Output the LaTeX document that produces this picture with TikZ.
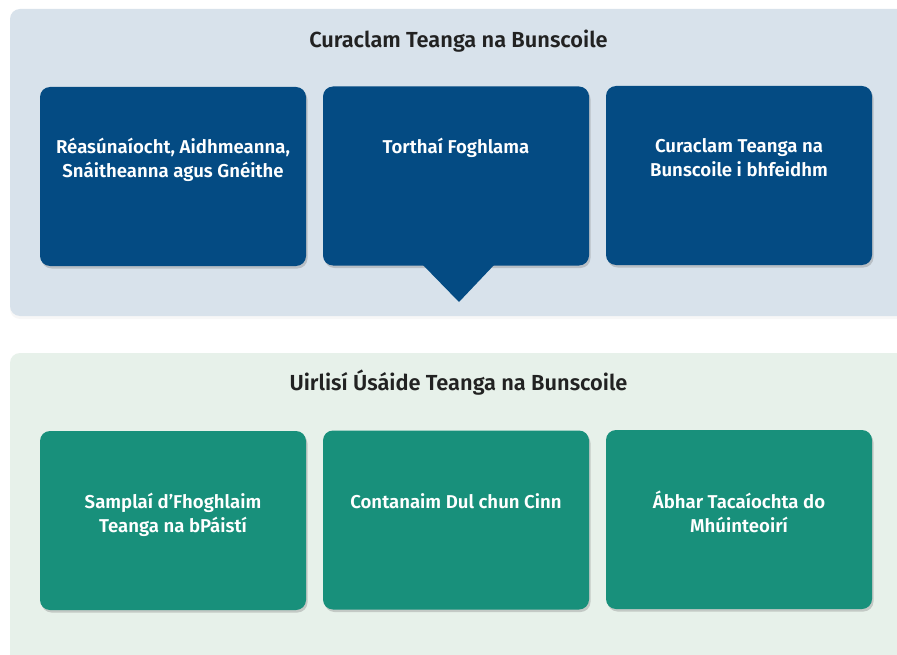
\documentclass[tikz,border=0pt]{standalone}
\usepackage{fontspec}
\setmainfont{Fira Sans}[BoldFont={Fira Sans SemiBold}]
\usetikzlibrary{shadows}
\definecolor{panelblue}{HTML}{D8E2EB}
\definecolor{panelgreen}{HTML}{E7F1EA}
\definecolor{boxblue}{HTML}{044B83}
\definecolor{boxgreen}{HTML}{18907B}
\definecolor{titlecol}{HTML}{222222}
\tikzset{
  panel/.style={rounded corners=10pt, drop shadow={shadow xshift=0pt, shadow yshift=-3pt, opacity=0.06}},
  card/.style={draw=none, rounded corners=10pt, inner sep=0pt, minimum width=266pt, minimum height=179pt,
    drop shadow={shadow xshift=1.5pt, shadow yshift=-2.5pt, opacity=0.35}},
  bluecard/.style={card, fill=boxblue},
  greencard/.style={card, fill=boxgreen},
  cardtext/.style={text=white, font=\fontsize{18.6}{24}\selectfont\bfseries, align=center, inner sep=0pt, anchor=base},
  titletext/.style={text=titlecol, font=\fontsize{21.8}{24}\selectfont\bfseries, inner sep=0pt, anchor=base},
}
\begin{document}
\begin{tikzpicture}[x=1pt,y=-1pt]
\useasboundingbox (0,0) rectangle (897,655);
\clip (0,0) rectangle (897,655);
\fill[white] (0,0) rectangle (897,655);
% panels
\path[panel, fill=panelblue] (10,9) rectangle (920,316);
\path[panel, fill=panelgreen] (10,353) rectangle (920,680);
% titles
\node[titletext] (t1) at (458.5,47.5) {Curaclam Teanga na Bunscoile};
\node[titletext] (t2) at (458.5,390.5) {Uirlisí Úsáide Teanga na Bunscoile};
% top cards
\node[bluecard] (a1) at (173,176.5) {};
\node[bluecard] (a2) at (456,176) {};
\node[bluecard] (a3) at (739,175.5) {};
\fill[boxblue] (422,264) -- (495,264) -- (459,302) -- cycle;
\node[cardtext] (ta1) at (173,178) {Réasúnaíocht, Aidhmeanna,\\Snáitheanna agus Gnéithe};
\node[cardtext] (ta2) at (456,154) {Torthaí Foghlama};
\node[cardtext] (ta3) at (739,177) {Curaclam Teanga na\\Bunscoile i bhfeidhm};
% bottom cards
\node[greencard] (b1) at (173,520.5) {};
\node[greencard] (b2) at (456,520) {};
\node[greencard] (b3) at (739,519.5) {};
\node[cardtext] (tb1) at (173,532) {Samplaí d’Fhoghlaim\\Teanga na bPáistí};
\node[cardtext] (tb2) at (456,508) {Contanaim Dul chun Cinn};
\node[cardtext] (tb3) at (739,532) {Ábhar Tacaíochta do\\Mhúinteoirí};
\end{tikzpicture}
\end{document}
